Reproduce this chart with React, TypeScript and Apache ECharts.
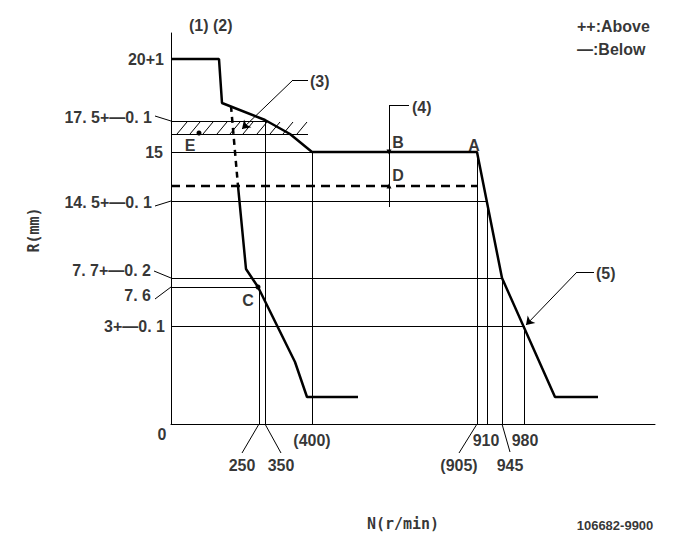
import React, { useEffect, useRef } from "react";
import * as echarts from "echarts";

// Schematic governor diagram: coordinates are in diagram units (no true scale in the original).
const yLevelLabels = ["20+1", "17. 5+—0. 1", "15", "14. 5+—0. 1", "7. 7+—0. 2", "7. 6", "3+—0. 1"];
const xSpeedLabels = ["0", "250", "350", "(400)", "(905)", "910", "945", "980"];
const pointLabels = ["A", "B", "C", "D", "E"];
const noteLabels = ["(1) (2)", "(3)", "(4)", "(5)"];
const legendLabels = ["++:Above", "—:Below"];
const axisTitles = ["R(mm)", "N(r/min)"];
const drawingNo = "106682-9900";

// thick full-load / speed-droop curve
const fullLoadCurve = [[0, 365], [48, 365], [51, 321], [94, 304], [119, 290], [141, 272], [306, 272], [331, 146], [384, 27], [427, 27]];
// idle governor curve
const governorSolid = [[67, 238], [75, 155], [87, 137], [124, 62], [136, 27], [187, 27]];
const governorDashed = [[60, 318], [67, 238]];
const dashedLevel = [[0, 238], [306, 238]];

// thin reference lines [x1, y1, x2, y2]
const refLines = [
  [0, 303, 94, 303], [0, 290, 137, 290], [0, 272, 141, 272], [0, 223, 316, 223],
  [0, 146, 331, 146], [0, 137, 88, 137], [0, 98, 353, 98],
  [88, 137, 88, 0], [94, 303, 94, 0], [141, 272, 141, 0], [306, 272, 306, 0],
  [316, 223, 316, 0], [331, 146, 331, 0], [353, 98, 353, 0],
  [218, 319, 218, 217], [218, 319, 238, 319], [137, 344, 122, 344], [423, 152, 406, 152],
  [-16, 308, 0, 303], [-16, 218, 0, 223], [-17, 153, 0, 146], [-16, 125, 0, 137],
  [88, 0, 71, -29], [94, 0, 110, -29], [306, 0, 288, -29], [331, 0, 339, -28],
];
const hatchStarts = [6, 19, 32, 46, 59, 72, 86, 99, 112, 126];
const hatchRange = [290, 302];
const arrowLines = [[122, 344, 71, 295], [406, 152, 355, 99]];
const smallArrows = [[218, 282, 218, 272], [218, 226, 218, 238]];
const dots = [[28, 291], [87, 137]];

// layout of texts (diagram units)
const yLabelPos: [number, number][] = [[-7, 365], [-19, 307], [-8, 272], [-19, 222], [-20, 154], [-20, 129], [-6, 98]];
const xLabelPos: [number, number][] = [[-9, -10], [71, -41], [110, -41], [141, -16], [288, -41], [315, -16], [339, -41], [354, -16]];
const pointPos: [number, number][] = [[303, 279], [227, 282], [77, 124], [227, 249], [19, 279]];
const notePos: [number, number][] = [[18, 399], [139, 343], [241, 317], [425, 151]];
const legendPos: [number, number][] = [[406, 398], [406, 375]];

const MONO = '"DejaVu Sans Mono","Liberation Mono",monospace';
const SANS = '"Liberation Sans",Arial,sans-serif';

function txt(text: string, pos: [number, number], align: string, size = 16, family = SANS, extra: any = {}) {
  return {
    value: pos,
    label: {
      show: true,
      position: "inside",
      formatter: text,
      align,
      verticalAlign: "middle",
      color: "#000",
      fontSize: size,
      fontWeight: "bold",
      fontFamily: family,
      ...extra,
    },
  };
}

export default function App() {
  const ref = useRef<HTMLDivElement>(null);
  useEffect(() => {
    if (!ref.current) return;
    const chart = echarts.init(ref.current, undefined, { renderer: "svg" });
    const seg = (a: number[]) => ({ coords: [[a[0], a[1]], [a[2], a[3]]] });
    const texts: any[] = [];
    yLevelLabels.forEach((t, i) => texts.push(txt(t, yLabelPos[i], "right")));
    xSpeedLabels.forEach((t, i) => texts.push(txt(t, xLabelPos[i], "center")));
    pointLabels.forEach((t, i) => texts.push(txt(t, pointPos[i], "center")));
    noteLabels.forEach((t, i) => texts.push(txt(t, notePos[i], "left")));
    legendLabels.forEach((t, i) => texts.push(txt(t, legendPos[i], "left", 16)));
    texts.push(txt(axisTitles[0], [-137, 194], "center", 15, MONO, { rotate: 90 }));
    texts.push(txt(axisTitles[1], [232, -100], "center", 15, MONO));
    texts.push(txt(drawingNo, [444, -101], "center", 13, SANS));

    const thin = refLines.map(seg).concat(
      hatchStarts.map((x) => seg([x, hatchRange[0], x + 10, hatchRange[1]]))
    );

    chart.setOption({
      animation: false,
      backgroundColor: "#fff",
      grid: { left: 171, top: 33, right: 26, bottom: 125 },
      xAxis: {
        type: "value", min: 0, max: 484,
        axisLine: { show: true, onZero: false, lineStyle: { color: "#000", width: 1 } },
        axisTick: { show: false }, axisLabel: { show: false }, splitLine: { show: false },
      },
      yAxis: {
        type: "value", min: 0, max: 391,
        axisLine: { show: true, onZero: false, lineStyle: { color: "#000", width: 1 } },
        axisTick: { show: false }, axisLabel: { show: false }, splitLine: { show: false },
      },
      series: [
        {
          type: "lines", coordinateSystem: "cartesian2d", clip: false, silent: true,
          lineStyle: { color: "#000", width: 1, opacity: 1 },
          data: thin,
        },
        {
          type: "lines", coordinateSystem: "cartesian2d", clip: false, silent: true,
          symbol: ["none", "arrow"], symbolSize: 8,
          lineStyle: { color: "#000", width: 1, opacity: 1 },
          itemStyle: { color: "#000" },
          data: arrowLines.map(seg),
        },
        {
          type: "lines", coordinateSystem: "cartesian2d", clip: false, silent: true,
          symbol: ["none", "triangle"], symbolSize: 5,
          lineStyle: { color: "#000", width: 1, opacity: 1 },
          itemStyle: { color: "#000" },
          data: smallArrows.map(seg),
        },
        {
          type: "line", clip: false, silent: true, showSymbol: false, symbol: "none",
          lineStyle: { color: "#000", width: 2.5 }, data: fullLoadCurve,
        },
        {
          type: "line", clip: false, silent: true, showSymbol: false, symbol: "none",
          lineStyle: { color: "#000", width: 2.5 }, data: governorSolid,
        },
        {
          type: "line", clip: false, silent: true, showSymbol: false, symbol: "none",
          lineStyle: { color: "#000", width: 2.5, type: [6, 5] }, data: governorDashed,
        },
        {
          type: "line", clip: false, silent: true, showSymbol: false, symbol: "none",
          lineStyle: { color: "#000", width: 2.5, type: [9, 6] }, data: dashedLevel,
        },
        {
          type: "scatter", clip: false, silent: true, symbolSize: 5,
          itemStyle: { color: "#000", opacity: 1 }, data: dots,
        },
        {
          type: "scatter", clip: false, silent: true, symbolSize: 0.1,
          itemStyle: { color: "rgba(0,0,0,0)" }, labelLayout: { hideOverlap: false },
          data: texts,
        },
      ],
    });
    return () => chart.dispose();
  }, []);
  return (
    <div
      ref={ref}
      style={{ position: "absolute", left: 0, top: 0, width: 681, height: 549, background: "#fff" }}
    />
  );
}
